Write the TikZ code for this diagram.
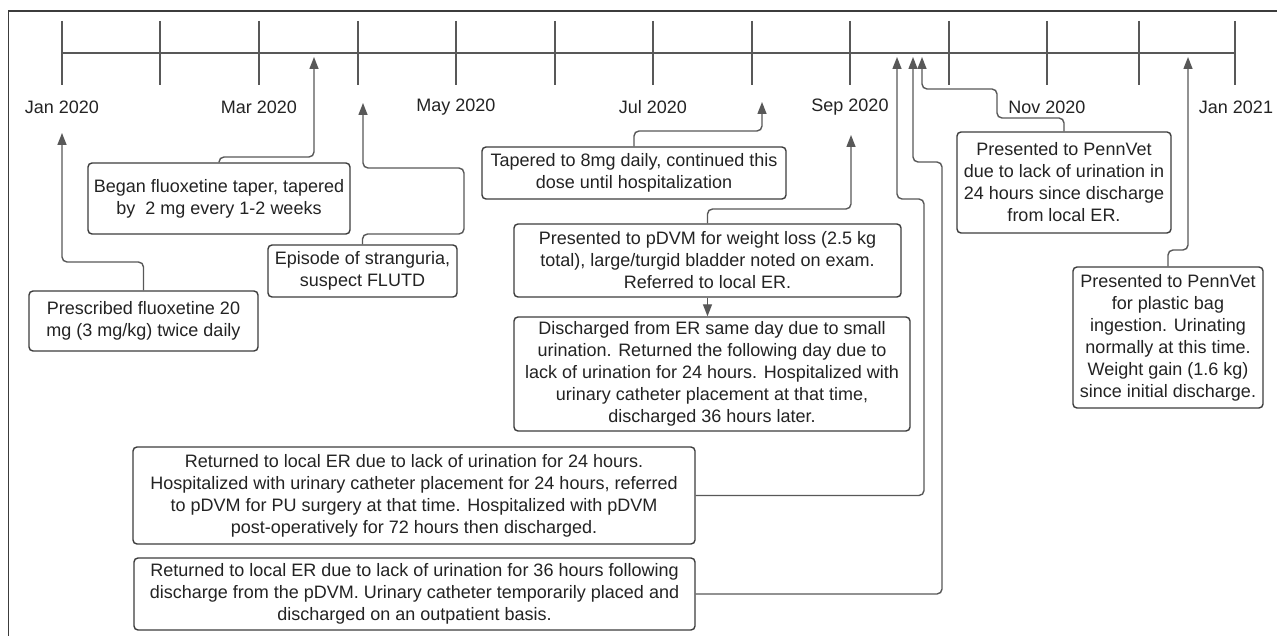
\documentclass[tikz,border=0pt]{standalone}
\usepackage{fontspec}
\setmainfont{Liberation Sans}
\usetikzlibrary{arrows.meta}
\definecolor{linec}{RGB}{88,88,88}
\definecolor{boxc}{RGB}{60,60,60}
\definecolor{txtc}{RGB}{35,35,35}
\begin{document}
\begin{tikzpicture}[x=1pt,y=-1pt,
  box/.style={draw=boxc, line width=1.4pt, rounded corners=4pt, fill=white, text=txtc,
    align=center, inner sep=0pt, font=\fontsize{18}{22}\selectfont},
  conn/.style={draw=linec, line width=1.4pt, rounded corners=5pt,
    -{Triangle[width=9pt,length=12pt]}},
  tline/.style={draw=linec, line width=2pt},
  mlabel/.style={text=txtc, inner sep=0pt, font=\fontsize{18}{22}\selectfont}]
\useasboundingbox (0,0) rectangle (1277,636);
\fill[white] (0,0) rectangle (1277,636);
\draw[boxc, line width=1.3pt] (8.5,640) -- (8.5,11) -- (1280,11);
% timeline
\draw[tline] (62,53) -- (1235,53);
\foreach \x in {62,160,259,358,456,555,653,752,850,949,1047,1139,1235}
  \draw[tline] (\x,21) -- (\x,85);
\node[mlabel] (m1) at (62,107) {Jan 2020};
\node[mlabel] (m3) at (259,107) {Mar 2020};
\node[mlabel] (m5) at (456,107) {May 2020};
\node[mlabel] (m7) at (653,107) {Jul 2020};
\node[mlabel] (m9) at (850,107) {Sep 2020};
\node[mlabel] (m11) at (1047,107) {Nov 2020};
\node[mlabel] (m13) at (1236,107) {Jan 2021};
% arrow tips
\coordinate (a1) at (62,133);
\coordinate (a2) at (314,57);
\coordinate (a3) at (363,103);
\coordinate (a4) at (762,102);
\coordinate (a5) at (851,135);
\coordinate (a7) at (897,57);
\coordinate (a8) at (913,57);
\coordinate (a9) at (922,57);
\coordinate (a10) at (1188,57);
% boxes
\node[box, minimum width=229, minimum height=60] (b1) at (143.5,321)
  {Prescribed fluoxetine 20\\mg (3 mg/kg) twice daily};
\node[box, minimum width=262, minimum height=71] (b2) at (219,198.5)
  {Began fluoxetine taper, tapered\\by\ \ 2 mg every 1-2 weeks};
\node[box, minimum width=189, minimum height=52] (b3) at (362.5,271)
  {Episode of stranguria,\\suspect FLUTD};
\node[box, minimum width=304, minimum height=52] (b4) at (634,173)
  {Tapered to 8mg daily, continued this\\dose until hospitalization};
\node[box, minimum width=387, minimum height=73] (b5) at (707.5,260.5)
  {Presented to pDVM for weight loss (2.5 kg\\total), large/turgid bladder noted on exam.\\Referred to local ER.};
\node[box, minimum width=396, minimum height=114] (b6) at (712,374)
  {Discharged from ER same day due to small\\urination. Returned the following day due to\\lack of urination for 24 hours. Hospitalized with\\urinary catheter placement at that time,\\discharged 36 hours later.};
\node[box, minimum width=562, minimum height=97] (b7) at (414,495.5)
  {Returned to local ER due to lack of urination for 24 hours.\\Hospitalized with urinary catheter placement for 24 hours, referred\\to pDVM for PU surgery at that time. Hospitalized with pDVM\\post-operatively for 72 hours then discharged.};
\node[box, minimum width=561, minimum height=72] (b8) at (414.5,594)
  {Returned to local ER due to lack of urination for 36 hours following\\discharge from the pDVM. Urinary catheter temporarily placed and\\discharged on an outpatient basis.};
\node[box, minimum width=214, minimum height=101] (b9) at (1064,182.5)
  {Presented to PennVet\\due to lack of urination in\\24 hours since discharge\\from local ER.};
\node[box, minimum width=190, minimum height=141] (b10) at (1168,337.5)
  {Presented to PennVet\\for plastic bag\\ingestion. Urinating\\normally at this time.\\Weight gain (1.6 kg)\\since initial discharge.};
% connectors
\draw[conn] (b1.north) |- (62,262) -- (a1);
\draw[conn] (b2.north) |- (314,157) -- (a2);
\draw[conn] (b3.north) |- (464,234) |- (363,168) -- (a3);
\draw[conn] (b4.north) |- (762,131) -- (a4);
\draw[conn] (b5.north) |- (851,209) -- (a5);
\draw[conn] (b5.south) -- (b5.south |- b6.north);
\draw[conn] (b7.east) -| (924,199) -| (a7);
\draw[conn] (b8.east) -| (942,162) -| (a8);
\draw[conn] (b9.north) |- (997,118) |- (a9 |- 0,89) -- (a9);
\draw[conn] (b10.north) |- (1188,250) -- (a10);
\end{tikzpicture}
\end{document}
